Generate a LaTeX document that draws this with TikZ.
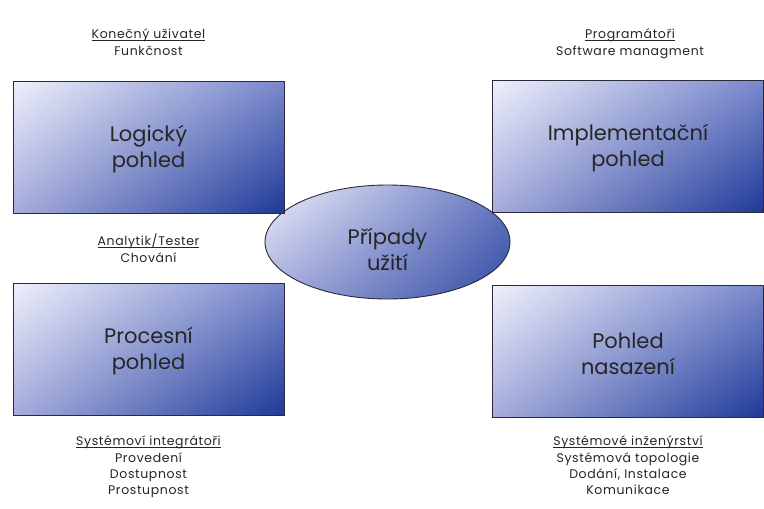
\documentclass[tikz,border=0pt]{standalone}
\usepackage{fontspec}
\setmainfont{Poppins}
\newfontfamily\rolefont[LetterSpace=5]{Poppins}
\usetikzlibrary{shapes.geometric,shadings}
\definecolor{cUL}{HTML}{EEF0FB}
\definecolor{cUR}{HTML}{7A88CC}
\definecolor{cLL}{HTML}{A6ACDC}
\definecolor{cLR}{HTML}{1E3A98}
\definecolor{edge}{HTML}{2A2A3A}
% underline placed just below the baseline, crossing descenders
\newcommand\roleul[1]{\setbox0\hbox{#1}\rlap{\rule[-1.3pt]{\wd0}{0.6pt}}\box0}
\tikzset{
  view/.style={draw=edge, line width=0.9pt, minimum width=271pt, minimum height=132pt,
    upper left=cUL, upper right=cUR, lower left=cLL, lower right=cLR},
  usecase/.style={ellipse, draw=edge, line width=0.9pt, minimum width=245pt, minimum height=114pt,
    inner sep=0pt, upper left=cUL, upper right=cUR!80!cLR, lower left=cLL, lower right=cLR!80!cUR},
  caption/.style={align=center, font=\fontsize{21}{26}\selectfont, text=black!85, inner sep=0pt},
  role/.style={align=center, font=\rolefont\fontsize{12.5}{16.3}\selectfont, text=black!85, inner sep=0pt}
}
\begin{document}
\begin{tikzpicture}[x=1pt, y=-1pt]
  \useasboundingbox[fill=white] (0,0) rectangle (764,509);
  % central use-case ellipse
  \node[usecase] (uc) at (387.5,242) {};
  \node[caption] (uctext) at ([yshift=-7pt]uc.center) {Případy\\užití};
  % the four views
  \node[view] (logical) at (148.5,147) {};
  \node[view] (impl) at (628,146.5) {};
  \node[view] (proc) at (148.5,349) {};
  \node[view] (deploy) at (628,351.5) {};
  \node[caption] (logicaltext) at ([yshift=-2pt]logical.center) {Logický\\pohled};
  \node[caption] (impltext) at ([yshift=-2pt]impl.center) {Implementační\\pohled};
  \node[caption] (proctext) at ([yshift=-2pt]proc.center) {Procesní\\pohled};
  \node[caption] (deploytext) at ([yshift=-2pt]deploy.center) {Pohled\\nasazení};
  % stakeholders and concerns
  \node[role, anchor=north] (r1) at (148.5,29) {\roleul{Konečný uživatel}\\Funkčnost};
  \node[role, anchor=north] (r2) at (630,29) {\roleul{Programátoři}\\Software managment};
  \node[role, anchor=north] (r3) at (148.5,234) {\roleul{Analytik/Tester}\\Chování};
  \node[role, anchor=north] (r4) at (148.5,436) {\roleul{Systémoví integrátoři}\\Provedení\\Dostupnost\\Prostupnost};
  \node[role, anchor=north] (r5) at (628,436) {\roleul{Systémové inženýrství}\\Systémová topologie\\Dodání, Instalace\\Komunikace};
\end{tikzpicture}
\end{document}
